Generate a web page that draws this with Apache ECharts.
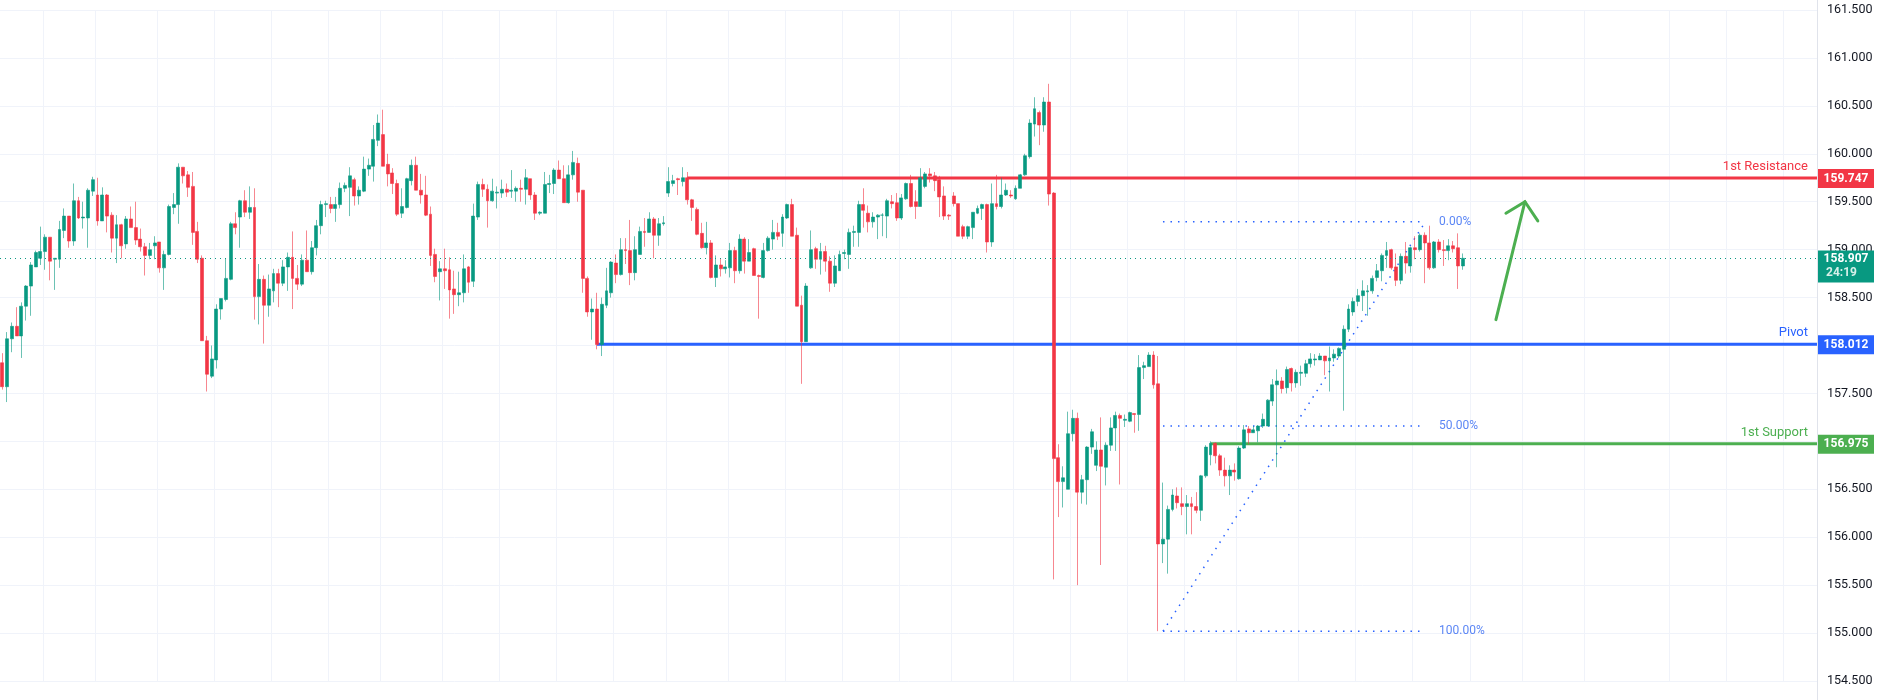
<!DOCTYPE html>
<html><head><meta charset="utf-8">
<script src="https://cdn.jsdelivr.net/npm/echarts@6/dist/echarts.min.js"></script>
<style>html,body{margin:0;padding:0;background:#fff}#c{width:1888px;height:700px}</style>
</head><body><div id="c"></div>
<script>
const opens = [157.82,157.57,158.07,158.20,158.10,158.41,158.62,158.82,158.91,158.98,159.13,158.90,158.90,159.20,159.35,159.09,159.51,159.33,159.33,159.61,159.57,159.30,159.57,159.36,159.12,159.26,159.06,159.32,159.23,159.11,159.03,158.94,159.04,159.08,158.81,158.95,159.44,159.47,159.86,159.78,159.66,159.19,158.91,158.05,157.68,157.85,158.38,158.48,158.69,159.27,159.34,159.51,159.39,159.44,158.51,158.69,158.42,158.57,158.75,158.65,158.82,158.92,158.70,158.64,158.89,158.77,159.02,159.25,159.47,159.47,159.43,159.47,159.64,159.65,159.73,159.56,159.61,159.84,159.87,160.14,160.20,159.89,159.80,159.69,159.38,159.44,159.72,159.88,159.62,159.57,159.37,158.95,158.77,158.80,158.79,158.59,158.53,158.55,158.82,158.67,159.34,159.68,159.63,159.51,159.59,159.59,159.63,159.61,159.61,159.64,159.63,159.74,159.57,159.38,159.38,159.68,159.69,159.83,159.74,159.49,159.78,159.90,159.62,158.70,158.35,
158.38,158.01,158.42,158.55,158.86,158.74,159.00,158.99,158.76,158.95,159.19,159.18,159.32,159.15,159.27,159.59,159.69,159.74,159.71,159.75,159.52,159.42,159.17,159.02,159.07,158.71,158.84,158.80,158.81,158.99,158.78,159.11,158.88,159.01,158.73,158.71,158.99,159.11,159.18,159.17,159.33,159.47,159.15,158.42,158.04,158.81,159.01,158.90,158.98,158.88,158.65,158.78,158.96,158.95,159.18,159.18,159.47,159.38,159.29,159.34,159.36,159.35,159.50,159.49,159.33,159.53,159.69,159.50,159.45,159.66,159.79,159.77,159.73,159.56,159.36,159.56,159.48,159.24,159.14,159.23,159.38,159.43,159.47,159.08,159.48,159.45,159.57,159.57,159.53,159.64,159.78,
159.97,160.31,160.43,160.30,160.54,159.59,156.83,156.58,156.50,157.08,157.24,156.47,156.60,156.94,156.75,156.91,156.73,156.96,157.14,157.27,157.22,157.21,157.29,157.28,157.77,157.78,157.90,157.60,155.93,155.98,156.29,156.43,156.35,156.32,156.35,156.32,156.28,156.64,156.86,156.98,156.85,156.70,156.64,156.70,156.61,156.93,157.13,157.09,157.11,157.16,157.16,157.42,157.59,157.63,157.56,157.76,157.61,157.71,157.71,157.81,157.85,157.85,157.89,157.84,157.87,157.89,157.96,158.17,158.35,158.46,158.52,158.56,158.57,158.71,158.78,158.94,159.00,158.82,158.68,158.93,158.83,159.02,159.00,159.15,159.07,158.81,159.08,159.00,158.99,159.04,159.02,158.83];
const closes = [157.57,158.07,158.20,158.10,158.41,158.62,158.84,158.97,158.98,159.13,158.88,158.91,159.21,159.35,159.09,159.51,159.33,159.34,159.62,159.73,159.30,159.57,159.35,159.12,159.26,159.04,159.32,159.23,159.10,159.03,158.94,159.00,159.07,158.81,158.95,159.45,159.47,159.86,159.77,159.65,159.18,158.90,158.05,157.70,157.86,158.38,158.49,158.70,159.27,159.23,159.51,159.39,159.44,158.51,158.69,158.42,158.59,158.75,158.65,158.82,158.92,158.70,158.64,158.89,158.77,159.02,159.25,159.47,159.48,159.43,159.47,159.64,159.67,159.77,159.56,159.62,159.84,159.88,160.15,160.32,159.87,159.79,159.69,159.37,159.45,159.74,159.88,159.62,159.57,159.36,158.94,158.72,158.80,158.78,158.58,158.53,158.55,158.80,158.66,159.35,159.68,159.63,159.51,159.61,159.60,159.63,159.60,159.62,159.64,159.63,159.75,159.57,159.38,159.39,159.68,159.69,159.83,159.74,159.49,159.78,159.91,159.60,158.70,158.35,158.38,
158.01,158.43,158.57,158.87,158.74,159.00,158.99,158.76,159.00,159.19,159.18,159.32,159.15,159.27,159.28,159.71,159.72,159.73,159.75,159.52,159.44,159.16,159.02,159.07,158.71,158.84,158.80,158.82,158.99,158.78,159.11,158.88,158.97,158.73,158.72,158.99,159.12,159.18,159.14,159.34,159.47,159.14,158.41,158.04,158.62,159.00,158.90,158.98,158.88,158.65,158.83,158.95,158.97,159.18,159.19,159.47,159.41,159.29,159.34,159.36,159.36,159.51,159.48,159.33,159.54,159.69,159.45,159.45,159.75,159.79,159.77,159.72,159.55,159.35,159.35,159.48,159.14,159.14,159.24,159.39,159.43,159.47,159.08,159.48,159.45,159.57,159.62,159.56,159.64,159.78,159.98,
160.32,160.47,160.30,160.54,159.58,156.82,156.58,156.62,157.08,157.24,156.47,156.60,156.94,157.10,156.91,156.74,156.96,157.14,157.27,157.24,157.23,157.30,157.28,157.77,157.79,157.90,157.59,155.93,155.98,156.29,156.44,156.36,156.32,156.35,156.32,156.28,156.64,156.94,156.98,156.85,156.70,156.64,156.70,156.68,156.93,157.12,157.09,157.12,157.16,157.23,157.43,157.59,157.63,157.55,157.75,157.61,157.72,157.72,157.81,157.86,157.86,157.89,157.84,157.87,157.91,157.97,158.17,158.38,158.46,158.52,158.57,158.57,158.70,158.78,158.94,158.99,158.81,158.68,158.93,158.86,159.02,159.00,159.15,159.07,158.81,159.08,159.00,158.99,159.04,159.01,158.83,158.91];
const highs = [157.92,158.14,158.24,158.40,158.45,158.63,158.87,158.99,159.24,159.16,159.13,158.91,159.30,159.43,159.35,159.69,159.55,159.50,159.64,159.76,159.75,159.65,159.58,159.39,159.36,159.27,159.35,159.45,159.50,159.22,159.07,159.07,159.14,159.08,158.99,159.47,159.59,159.90,159.86,159.82,159.81,159.29,158.94,158.10,158.00,158.43,158.49,158.91,159.29,159.39,159.52,159.62,159.66,159.64,158.85,158.73,158.74,158.80,158.80,158.89,158.97,159.19,158.84,158.95,159.20,159.09,159.31,159.51,159.51,159.55,159.55,159.70,159.70,159.86,159.75,159.66,159.97,159.95,160.30,160.41,160.46,160.00,159.85,159.73,159.64,159.75,159.94,159.97,159.79,159.77,159.45,159.01,158.88,159.01,158.92,158.78,158.77,158.95,158.83,159.48,159.71,159.74,159.68,159.74,159.66,159.73,159.69,159.83,159.66,159.73,159.84,159.74,159.60,159.40,159.81,159.78,159.85,159.93,159.88,159.88,160.03,159.96,159.62,158.72,158.49,
158.55,158.50,158.81,158.88,158.95,159.12,159.12,159.31,159.14,159.24,159.33,159.39,159.34,159.33,159.35,159.86,159.78,159.75,159.86,159.81,159.53,159.44,159.28,159.29,159.10,158.94,158.91,158.89,159.07,159.03,159.16,159.13,159.11,159.02,158.74,159.07,159.14,159.31,159.28,159.37,159.48,159.53,159.23,158.52,158.65,159.20,159.03,159.07,159.04,158.93,158.94,158.99,159.00,159.22,159.25,159.51,159.64,159.46,159.39,159.37,159.38,159.53,159.57,159.59,159.58,159.70,159.78,159.62,159.85,159.81,159.85,159.81,159.77,159.66,159.37,159.60,159.48,159.26,159.25,159.39,159.46,159.48,159.48,159.69,159.78,159.75,159.69,159.62,159.67,159.79,160.00,
160.36,160.59,160.45,160.59,160.73,159.60,156.97,156.74,157.31,157.33,157.30,156.65,156.95,157.13,157.00,157.25,156.99,157.25,157.31,157.29,157.28,157.31,157.29,157.90,157.83,157.93,157.94,157.89,156.57,156.33,156.50,156.52,156.52,156.44,156.42,156.47,156.65,156.96,157.00,156.99,156.87,156.83,156.75,156.77,156.95,157.17,157.16,157.16,157.17,157.29,157.44,157.65,157.75,157.67,157.78,157.77,157.75,157.79,157.85,157.92,157.91,157.92,157.89,157.99,157.96,157.98,158.21,158.43,158.50,158.59,158.68,158.63,158.73,158.85,158.96,159.08,159.01,158.96,158.96,159.08,159.03,159.14,159.17,159.18,159.25,159.09,159.11,159.10,159.11,159.09,159.17,158.96];
const lows = [157.54,157.41,157.93,158.10,157.87,158.26,158.31,158.82,158.84,158.79,158.68,158.58,158.81,159.12,159.02,159.04,159.32,159.22,159.02,159.56,159.25,159.30,159.18,158.97,158.86,158.91,159.01,159.23,159.05,158.98,158.73,158.90,158.90,158.76,158.58,158.94,159.37,159.27,159.69,159.55,159.05,158.86,158.05,157.52,157.66,157.76,158.27,158.46,158.68,159.16,159.02,159.34,159.32,158.27,158.22,158.02,158.30,158.45,158.40,158.62,158.57,158.38,158.58,158.62,158.77,158.74,158.94,159.16,159.34,159.38,159.29,159.43,159.60,159.35,159.46,159.47,159.60,159.77,159.71,160.08,159.87,159.66,159.58,159.35,159.33,159.43,159.67,159.62,159.48,159.35,158.83,158.66,158.47,158.59,158.28,158.33,158.41,158.45,158.55,158.61,159.31,159.55,159.23,159.50,159.43,159.54,159.55,159.54,159.50,159.50,159.47,159.52,159.31,159.36,159.38,159.59,159.58,159.74,159.49,159.48,159.73,159.50,158.55,158.30,158.06,
157.96,157.89,158.39,158.50,158.65,158.73,158.85,158.63,158.68,158.95,159.03,159.18,158.91,159.04,159.25,159.55,159.66,159.57,159.66,159.47,159.30,159.15,159.01,158.95,158.70,158.61,158.72,158.75,158.71,158.65,158.75,158.75,158.88,158.73,158.28,158.70,158.98,159.00,159.10,159.03,159.32,159.14,158.41,157.60,158.04,158.80,158.80,158.74,158.77,158.56,158.61,158.78,158.90,158.80,159.03,159.03,159.23,159.18,159.23,159.11,159.14,159.12,159.43,159.30,159.31,159.52,159.44,159.32,159.45,159.64,159.70,159.61,159.34,159.31,159.31,159.45,159.14,159.11,159.11,159.11,159.37,159.31,158.97,159.03,159.42,159.43,159.56,159.54,159.52,159.64,159.77,
159.95,160.18,160.09,160.23,159.46,155.56,156.21,156.31,156.50,157.00,155.50,156.35,156.34,156.87,156.69,155.71,156.54,156.90,156.90,156.55,157.15,157.20,157.09,157.11,157.65,157.78,157.55,155.02,155.73,155.62,156.27,156.30,156.23,156.03,156.03,156.25,156.17,156.62,156.75,156.77,156.64,156.53,156.44,156.59,156.60,156.92,156.97,157.09,156.99,157.14,157.16,157.37,156.73,157.50,157.50,157.52,157.56,157.58,157.67,157.77,157.79,157.85,157.69,157.52,157.83,157.87,157.32,158.14,158.31,158.41,158.36,158.31,158.54,158.67,158.67,158.81,158.79,158.62,158.64,158.75,158.76,158.90,158.98,158.65,158.79,158.80,158.97,158.83,158.89,158.97,158.59,158.79];
const gridCols = [9,20,33,45,57,69,80,93,105,117,129,140,153,165,177,189,200,213,225,237,249,260,273,285,297,309,320,333,351,363,375];
const levels = [
  {name:'1st Resistance', price:159.747, from:144, color:'#F23645'},
  {name:'Pivot', price:158.012, from:125, color:'#2962FF'},
  {name:'1st Support', price:156.975, from:254, color:'#4CAF50'}
];
const lastPrice = 158.907, timer = '24:19';
const fibLevels = [{label:'0.00%', price:159.29},{label:'50.00%', price:157.16},{label:'100.00%', price:155.02}];
const fibFrom = 244, fibTo = 300;
const arrowPts = [[314,158.27],[320.1,159.50]], arrowWings=[[316.1,159.38],[322.8,159.30]];
const NCAT = 382;
const categories = Array.from({length:NCAT},(_,i)=>String(i));
const ohlc = opens.map((o,i)=>[o,closes[i],lows[i],highs[i]]);

const chart = echarts.init(document.getElementById('c'));
const UP='#089981', DN='#F23645';
chart.setOption({
  animation:false,
  grid:{left:0,right:71,top:10,bottom:19},
  xAxis:{type:'category',data:categories,boundaryGap:true,axisLine:{show:false},axisTick:{show:false},axisLabel:{show:false},
    splitLine:{show:true,interval:(i)=>gridCols.includes(i),lineStyle:{color:'#f0f3fa'}}},
  yAxis:{type:'value',position:'right',min:154.5,max:161.5,interval:0.5,scale:true,
    axisLine:{show:false},axisTick:{show:false},
    axisLabel:{margin:10,color:'#131722',fontSize:12.5,fontFamily:'Roboto, sans-serif',formatter:v=>v.toFixed(3)},
    splitLine:{lineStyle:{color:'#f0f3fa'}}},
  series:[{type:'candlestick',data:ohlc,barWidth:3.4,
    itemStyle:{color:UP,color0:DN,borderColor:UP,borderColor0:DN,borderWidth:0.6},
    markLine:{symbol:'none',silent:true,label:{show:false},
      lineStyle:{color:UP,type:[1,4],width:1},data:[{yAxis:lastPrice}]}
  }]
});
function px(i,p){const a=chart.convertToPixel({gridIndex:0},[Math.floor(i),p]);const b=chart.convertToPixel({gridIndex:0},[Math.floor(i)+1,p]);return [a[0]+(i-Math.floor(i))*(b[0]-a[0]),a[1]];}
const g=[];
const RE=1817;
const Z={z:200,zlevel:1};
levels.forEach(l=>{
  const s=px(l.from,l.price);
  g.push({type:'line',shape:{x1:s[0],y1:s[1],x2:RE,y2:s[1]},style:{stroke:l.color,lineWidth:3}});
  g.push({type:'text',style:{text:l.name,x:1808,y:s[1]-5,align:'right',verticalAlign:'bottom',fill:l.color,font:'13px Roboto, sans-serif'}});
  g.push(Object.assign({type:'rect',shape:{x:1818,y:s[1]-9,width:56,height:19},style:{fill:l.color}},Z));
  g.push(Object.assign({type:'text',style:{text:l.price.toFixed(3),x:1846,y:s[1]+0.5,align:'center',verticalAlign:'middle',fill:'#fff',font:'bold 12px Roboto, sans-serif'}},Z,{z:201}));
});
const ly=px(0,lastPrice)[1];
g.push(Object.assign({type:'rect',shape:{x:1818,y:ly-8,width:56,height:32},style:{fill:UP}},Z));
g.push(Object.assign({type:'text',style:{text:lastPrice.toFixed(3),x:1846,y:ly,align:'center',verticalAlign:'middle',fill:'#fff',font:'bold 12px Roboto, sans-serif'}},Z,{z:201}));
g.push(Object.assign({type:'text',style:{text:timer,x:1826,y:ly+14,align:'left',verticalAlign:'middle',fill:'#d7efe9',font:'bold 12px Roboto, sans-serif'}},Z,{z:201}));
fibLevels.forEach(f=>{
  const a=px(fibFrom,f.price), b=px(fibTo,f.price);
  g.push({type:'line',shape:{x1:a[0],y1:a[1],x2:b[0]-4,y2:a[1]},style:{stroke:'#2962FF',lineWidth:1.5,lineDash:[1.5,6]}});
  g.push({type:'text',style:{text:f.label,x:1439,y:a[1],verticalAlign:'middle',fill:'#5b86f5',font:'12px Roboto, sans-serif'}});
});
const d1=px(fibFrom,fibLevels[2].price), d2=px(fibTo,fibLevels[0].price);
g.push({type:'line',shape:{x1:d1[0],y1:d1[1],x2:d2[0]-4,y2:d2[1]},style:{stroke:'#2962FF',lineWidth:1.5,lineDash:[1.5,6]}});
const t=px(...arrowPts[0]), h=px(...arrowPts[1]), w1=px(...arrowWings[0]), w2=px(...arrowWings[1]);
g.push({type:'polyline',shape:{points:[t,h]},style:{stroke:'#4CAF50',lineWidth:3,lineCap:'round'}});
g.push({type:'polyline',shape:{points:[w1,h,w2]},style:{stroke:'#4CAF50',lineWidth:3,lineCap:'round',fill:null}});
g.push({type:'line',shape:{x1:RE+0.5,y1:0,x2:RE+0.5,y2:700},style:{stroke:'#e0e3eb',lineWidth:1}});
chart.setOption({graphic:g});
</script></body></html>
